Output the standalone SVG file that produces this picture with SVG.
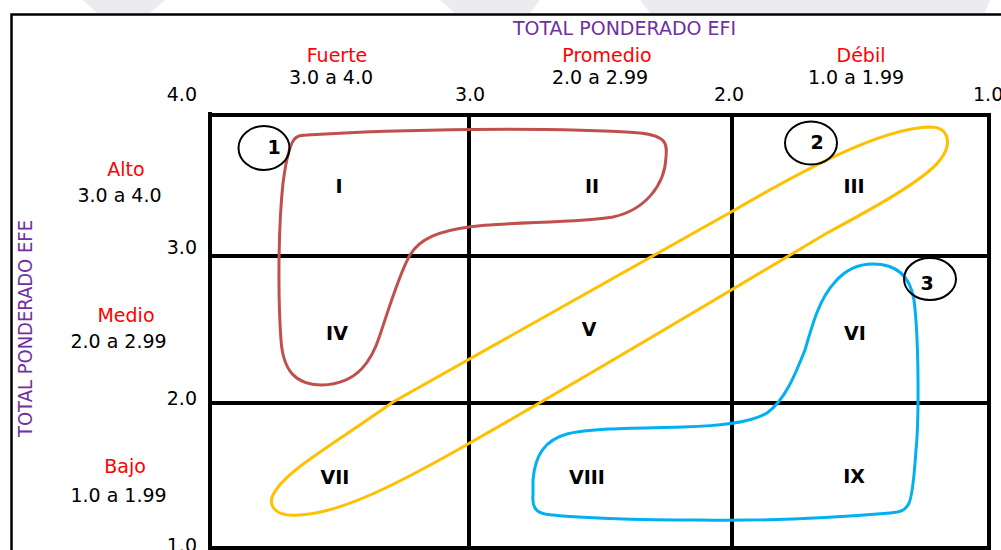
<svg xmlns="http://www.w3.org/2000/svg" width="1001" height="550" viewBox="0 0 1001 550">
<style>
.ax{font-family:"DejaVu Sans",sans-serif;font-size:19px;fill:#000}
.red{font-family:"DejaVu Sans",sans-serif;font-size:19px;fill:#FF0000}
.pur{font-family:"DejaVu Sans",sans-serif;font-size:19px;fill:#7030A0}
.cell{font-family:"DejaVu Sans",sans-serif;font-size:19px;font-weight:bold;fill:#000;text-anchor:middle}
.num{font-family:"DejaVu Sans",sans-serif;font-size:19px;font-weight:bold;fill:#000;text-anchor:middle}
.mid{text-anchor:middle}
.end{text-anchor:end}
.grid{stroke:#000;stroke-width:4;fill:none}
.ring{stroke:#000;stroke-width:2;fill:none}
.zone{fill:none;stroke-width:3;stroke-linejoin:round}
</style>
<rect width="1001" height="550" fill="#fff"/>
<g id="watermark" fill="#ECECF0">
<polygon points="83,0 165,0 150,13 97,13"/>
<polygon points="440,0 540,0 530,13 455,13"/>
<polygon points="640,0 990,0 985,13 650,13"/>
</g>
<g id="frame">
<path d="M11.5,550 V14.5 H1001" stroke="#000" stroke-width="2.5" fill="none"/>
</g>
<g id="grid" class="grid">
<path d="M210,112 V550"/>
<path d="M208,115 H989"/>
<path d="M989,113 V550"/>
<path d="M210,548 H991"/>
<path d="M469,115 V548"/>
<path d="M732,115 V548"/>
<path d="M210,256 H989"/>
<path d="M210,403 H989"/>
</g>
<g id="axis-efi">
<text class="pur mid" x="624.5" y="35">TOTAL PONDERADO EFI</text>
<text class="red mid" x="337" y="62">Fuerte</text>
<text class="ax mid" x="331" y="84">3.0 a 4.0</text>
<text class="red mid" x="607" y="62">Promedio</text>
<text class="ax mid" x="600" y="84">2.0 a 2.99</text>
<text class="red mid" x="861" y="62">Débil</text>
<text class="ax mid" x="856" y="84">1.0 a 1.99</text>
<text class="ax end" x="197" y="101">4.0</text>
<text class="ax mid" x="470" y="101">3.0</text>
<text class="ax mid" x="729" y="101">2.0</text>
<text class="ax" x="973" y="101">1.0</text>
</g>
<g id="axis-efe">
<text class="pur mid" transform="translate(32,328.5) rotate(-90)" font-size="18" textLength="217" lengthAdjust="spacingAndGlyphs">TOTAL PONDERADO EFE</text>
<text class="red mid" x="126" y="176">Alto</text>
<text class="ax mid" x="119.5" y="202">3.0 a 4.0</text>
<text class="red mid" x="126" y="322">Medio</text>
<text class="ax mid" x="118.5" y="348">2.0 a 2.99</text>
<text class="red mid" x="125" y="473">Bajo</text>
<text class="ax mid" x="118.5" y="502">1.0 a 1.99</text>
<text class="ax end" x="197" y="254">3.0</text>
<text class="ax end" x="197" y="405">2.0</text>
<text class="ax end" x="197" y="552">1.0</text>
</g>
<g id="cells">
<g id="cell-I"><text class="cell" x="339" y="193">I</text></g>
<g id="cell-II"><text class="cell" x="592" y="193">II</text></g>
<g id="cell-III"><text class="cell" x="854" y="193">III</text></g>
<g id="cell-IV"><text class="cell" x="337" y="340">IV</text></g>
<g id="cell-V"><text class="cell" x="589" y="336">V</text></g>
<g id="cell-VI"><text class="cell" x="855" y="340">VI</text></g>
<g id="cell-VII"><text class="cell" x="335" y="484">VII</text></g>
<g id="cell-VIII"><text class="cell" x="587" y="484">VIII</text></g>
<g id="cell-IX"><text class="cell" x="854" y="483">IX</text></g>
</g>
<g id="connectors">
<path id="zone-1" class="zone" stroke="#C0504D" d="M307,135 C400,129 550,127 640,133 C668,136 667,145 666,157 C665,185 645,210 613,217 C580,223 500,222 469,227 C440,231 420,238 410,255 C400,272 390,305 380,335 C372,360 358,384 322,385 C295,385 283,370 281,340 C278,300 278,230 283,183 C286,160 290,140 297,137 C300,135 303,135 307,135 Z"/>
<path id="zone-2" class="zone" stroke="#FFC000" d="M930,127 C950,127 952,145 940,160 C925,180 870,210 827,233 C740,285 560,392 475,440 C400,483 340,514 298,515 C275,517 265,505 276,490 C290,468 340,440 393,402 L731,212 C800,172 880,128 930,127 Z"/>
<path id="zone-3" class="zone" stroke="#00B0F0" d="M873,264 C895,264 910,275 914,300 C919,340 919,420 916,450 C914,480 912,500 908,505 C904,511 900,512 890,513 C820,519 760,521 700,520 C640,520 570,518 545,514 C535,512 532,506 533,495 L533,480 C535,455 545,440 567,434 C590,428 640,428 683,427 C720,426 750,423 767,413 C785,400 795,375 805,350 C813,322 820,298 835,282 C847,268 860,264 873,264 Z"/>
</g>
<g id="marker-1"><ellipse class="ring" cx="264" cy="148" rx="25.5" ry="22"/><text class="num" x="274" y="154">1</text></g>
<g id="marker-2"><ellipse class="ring" cx="811" cy="143" rx="26" ry="21.5"/><text class="num" x="817" y="149">2</text></g>
<g id="marker-3"><ellipse class="ring" cx="930" cy="279" rx="26" ry="21"/><text class="num" x="927" y="290">3</text></g>
</svg>
